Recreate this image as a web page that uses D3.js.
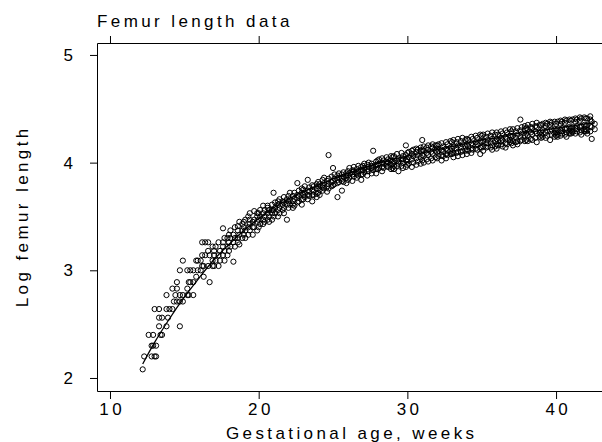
<!DOCTYPE html>
<html>
<head>
<meta charset="utf-8">
<script src="https://cdn.jsdelivr.net/npm/d3@7"></script>
<style>
body { margin: 0; background: #fff; }
text { font-family: "Liberation Sans", Arial, sans-serif; fill: #000; }
</style>
</head>
<body>
<script>
let ageWeeks = [
    12.2,12.3,12.6,12.8,12.9,13.0,13.1,13.3,13.4,13.5,13.8,13.9,
    14.0,14.2,14.3,14.4,14.5,14.7,14.9,15.2,15.3,15.4,15.6,15.8,15.9,
    16.1,16.2,16.3,16.4,16.6,16.7,16.9,
    17.0,17.1,17.3,17.4,17.6,17.7,17.9,
    18.0,18.1,18.3,18.4,18.6,18.7,18.9,
    19.0,19.1,19.3,19.4,19.6,19.7,19.9,
    20.0,20.1,20.3,20.4,20.6,20.7,20.9,
    21.0,21.1,21.3,21.4,21.6,21.7,21.9,
    22.0,22.1,22.3,22.4,22.6,22.7,22.9,
    23.0,23.1,23.3,23.4,23.6,23.7,23.9,
    24.0,24.1,24.3,24.4,24.6,24.7,24.9,
    25.0,25.1,25.3,25.4,25.6,25.7,25.9,
    26.0,26.1,26.3,26.4,26.6,26.7,26.9,
    27.0,27.1,27.3,27.4,27.6,27.7,27.9,
    28.0,28.1,28.3,28.4,28.6,28.7,28.9,
    29.0,29.1,29.3,29.4,29.6,29.7,29.9,
    30.0,30.1,30.3,30.4,30.6,30.7,30.9,
    31.0,31.1,31.3,31.4,31.6,31.7,31.9,
    32.0,32.1,32.3,32.4,32.6,32.7,32.9,
    33.0,33.1,33.3,33.4,33.6,33.7,33.9,
    34.0,34.1,34.3,34.4,34.6,34.7,34.9,
    35.0,35.1,35.3,35.4,35.6,35.7,35.9,
    36.0,36.1,36.3,36.4,36.6,36.7,36.9,
    37.0,37.1,37.3,37.4,37.6,37.7,37.9,
    38.0,38.1,38.3,38.4,38.6,38.7,38.9,
    39.0,39.1,39.3,39.4,39.6,39.7,39.9,
    40.0,40.1,40.3,40.4,40.6,40.7,40.9,
    41.0,41.1,41.3,41.4,41.6,41.7,41.9,
    42.0,42.1,42.3,42.4,42.6
];

// log femur length values observed at each age above
let logFemur = [
    [2.08],[2.20],[2.40],[2.20,2.30],[2.30,2.40],[2.20,2.64],[2.20,2.30],[2.48,2.56,2.64],[2.40],[2.40,2.56],[2.48,2.64,2.77],[2.56],
    [2.64],[2.64,2.83],[2.71],[2.77],[2.71,2.83,2.89],[2.48,2.71,2.77,3.00],[2.71,2.77,3.09],[2.77,2.83,3.00],[2.77,2.89],[2.89,3.00],[2.77,2.89,3.00],[2.94,3.09],[3.00,3.09],
    [3.00,3.09],[3.04,3.14,3.26],[2.94,3.04],[3.14,3.26],[3.04,3.18,3.26],[2.89,3.14],[3.04,3.09,3.22],
    [3.04,3.14,3.18],[3.09,3.22],[3.14,3.04,3.26],[3.18,3.09],[3.14,3.22,3.39,3.26],[3.18,3.09,3.30],[3.22,3.14,3.30],
    [3.26,3.18,3.33],[3.22,3.30,3.37],[3.08,3.26,3.33],[3.30,3.22,3.40],[3.41,3.30,3.26,3.37],[3.33,3.24,3.45],[3.37,3.30,3.43],
    [3.33,3.40,3.45],[3.37,3.47,3.30],[3.40,3.33,3.50],[3.43,3.47,3.37,3.53],[3.33,3.45,3.40],[3.47,3.40,3.55],[3.45,3.50,3.37,3.53],
    [3.47,3.40,3.53],[3.50,3.43,3.56],[3.60,3.47,3.53,3.43],[3.50,3.56,3.45],[3.53,3.47,3.58,3.60],[3.50,3.56,3.45],[3.56,3.53,3.61,3.47],
    [3.72,3.56,3.50],[3.58,3.53,3.63],[3.56,3.61,3.50,3.64],[3.58,3.53,3.66],[3.61,3.56,3.64],[3.58,3.63,3.53,3.68],[3.47,3.61,3.66],
    [3.64,3.58,3.69],[3.61,3.66,3.72],[3.64,3.58,3.69,3.61],[3.66,3.72,3.60],[3.81,3.67,3.63,3.70],[3.69,3.64,3.74],[3.66,3.72,3.61,3.76],
    [3.70,3.66,3.75],[3.72,3.78,3.68],[3.84,3.70,3.74,3.66],[3.73,3.77,3.69],[3.75,3.70,3.79,3.64],[3.73,3.78,3.70],[3.76,3.71,3.80,3.68],
    [3.78,3.72,3.82],[3.75,3.80,3.70],[3.79,3.84,3.74,3.77],[3.81,3.76,3.86],[3.78,3.83,3.73],[4.07,3.80,3.85,3.76],[3.82,3.78,3.87],
    [3.95,3.83,3.79],[3.85,3.80,3.89],[3.68,3.84,3.88,3.81],[3.86,3.82,3.90],[3.74,3.85,3.89,3.83],[3.87,3.82,3.91],[3.86,3.90,3.81,3.88],
    [3.88,3.84,3.92],[3.90,3.86,3.95],[3.89,3.93,3.83,3.91],[3.87,3.92,3.96],[3.91,3.86,3.94,3.89],[3.92,3.88,3.97],[3.93,3.89,3.84,3.96],
    [3.93,3.89,3.97],[3.95,3.91,3.99],[3.94,3.88,3.98,3.92],[3.96,3.92,4.00],[3.95,3.99,3.90,3.97],[4.11,3.96,3.93],[3.98,3.94,4.01,3.90],
    [3.98,3.94,4.02],[3.99,3.95,4.03],[4.00,3.96,4.04,3.92],[3.99,4.02,3.95],[4.01,3.97,4.05,3.99],[4.00,4.03,3.96],[4.02,3.98,4.06,3.94],
    [3.99,3.95,4.05],[4.00,3.94,4.06,3.97],[4.02,3.97,4.08],[3.99,4.04,3.92,4.01],[4.03,3.97,4.09],[4.00,4.06,3.95,4.03],[4.16,4.02,4.07,3.96],
    [4.03,3.98,4.09,4.01],[4.05,3.99,4.10],[4.03,4.08,3.96,4.11],[4.06,4.00,4.12],[4.04,4.10,3.98,4.13],[4.07,4.01,4.12],[4.05,4.11,3.99,4.14],
    [4.21,4.07,4.02,4.12],[4.06,4.11,4.00,4.15],[4.09,4.03,4.14],[4.07,4.12,4.01,4.16],[4.10,4.04,4.15],[4.08,4.14,4.02,4.17],[4.11,4.05,4.16],
    [4.10,4.16,4.04,4.13],[4.11,4.06,4.17],[4.12,4.07,4.18,4.02],[4.10,4.15,4.06],[4.13,4.08,4.19,4.04],[4.11,4.17,4.07],[4.14,4.08,4.20,4.11],
    [4.13,4.08,4.19],[4.15,4.09,4.21,4.05],[4.13,4.19,4.09],[4.16,4.10,4.22,4.06],[4.14,4.20,4.10],[4.17,4.11,4.23,4.07],[4.15,4.21,4.11],
    [4.17,4.12,4.22,4.08],[4.15,4.21,4.11],[4.18,4.13,4.24,4.09],[4.16,4.22,4.12],[4.19,4.13,4.25,4.16],[4.17,4.23,4.12],[4.20,4.14,4.26,4.08],
    [4.19,4.14,4.25],[4.20,4.15,4.26,4.11],[4.18,4.24,4.14],[4.21,4.15,4.27,4.18],[4.19,4.25,4.14],[4.22,4.16,4.28,4.12],[4.20,4.26,4.15],
    [4.22,4.17,4.28,4.13],[4.20,4.26,4.16],[4.23,4.17,4.29,4.20],[4.21,4.27,4.15],[4.24,4.18,4.30,4.14],[4.22,4.28,4.17],[4.25,4.19,4.31,4.21],
    [4.24,4.18,4.29],[4.25,4.20,4.31,4.16],[4.23,4.29,4.19],[4.26,4.20,4.32,4.17],[4.40,4.24,4.30,4.20],[4.27,4.21,4.33],[4.25,4.31,4.20,4.34],
    [4.27,4.21,4.32],[4.25,4.31,4.20,4.35],[4.28,4.22,4.33],[4.26,4.32,4.21,4.36],[4.29,4.23,4.34],[4.27,4.33,4.19,4.37],[4.28,4.24,4.35],
    [4.29,4.23,4.35,4.26],[4.30,4.24,4.36],[4.37,4.28,4.34,4.23],[4.30,4.25,4.36],[4.29,4.35,4.21,4.38],[4.31,4.26,4.37],[4.31,4.27,4.38,4.24],
    [4.30,4.25,4.36,4.28],[4.24,4.31,4.26,4.38],[4.30,4.36,4.25,4.39],[4.32,4.27,4.38,4.29],[4.31,4.37,4.26,4.40],[4.32,4.28,4.39,4.24],[4.33,4.29,4.40,4.27],
    [4.32,4.27,4.39,4.30],[4.40,4.33,4.28,4.29],[4.32,4.38,4.27,4.41],[4.34,4.29,4.40,4.31],[4.33,4.39,4.28,4.42],[4.34,4.30,4.41,4.26],[4.35,4.31,4.42,4.29],
    [4.34,4.29,4.41,4.31],[4.35,4.30,4.41,4.27],[4.34,4.40,4.29,4.43],[4.33,4.22,4.38],[4.36,4.31]
];

// fitted curve
let fitAge = [12.2,13,14,15,16,17,18,19,20,21,22,23,24,25,26,27,28,29,30,31,32,33,34,35,36,37,38,39,40,41,42,42.6];
let fitLog = [2.13,2.33,2.55,2.75,2.93,3.10,3.24,3.37,3.48,3.58,3.66,3.73,3.79,3.85,3.90,3.95,3.99,4.03,4.06,4.09,4.12,4.15,4.18,4.21,4.23,4.26,4.28,4.30,4.32,4.34,4.36,4.37];

let xTicks = [10,20,30,40];
let yTicks = [2,3,4,5];

let chartTitle = "Femur length data";
let xTitle = "Gestational age, weeks";
let yTitle = "Log femur length";

let width = 602,
    height = 442;

let margin = {
    left:97,
    right:0,
    top:43,
    bottom:51
}

let fontSize = 17,
    spacing = 3.4;

let x = d3.scaleLinear()
    .domain([9.126, 43.09])
    .range([margin.left, width - margin.right]);

let y = d3.scaleLinear()
    .domain([1.879, 5.111])
    .range([height - margin.bottom, margin.top]);

let points = ageWeeks.flatMap((a,i) => logFemur[i].map((v) => ({age:a, val:v})));

let svg = d3.select("body")
    .append("svg")
    .attr("width", width)
    .attr("height", height);

let lineGenerator = d3.line()
    .x((d) => x(d[0]))
    .y((d) => y(d[1]))
    .curve(d3.curveMonotoneX);

svg.append("g")
    .selectAll("circle")
    .data(points)
    .join("circle")
    .attr("cx", (d) => x(d.age))
    .attr("cy", (d) => y(d.val))
    .attr("r", 2.6)
    .attr("fill", "none")
    .attr("stroke", "#000")
    .attr("stroke-width", 1);

svg.append("path")
    .attr("d", lineGenerator(fitAge.map((a,i) => [a, fitLog[i]])))
    .attr("fill", "none")
    .attr("stroke", "#000")
    .attr("stroke-width", 1.3);

let xAxisBottom = d3.axisBottom(x).tickValues(xTicks).tickSize(8).tickSizeOuter(0).tickPadding(4).tickFormat(d3.format("d"));
let xAxisTop = d3.axisTop(x).tickValues(xTicks).tickSize(7).tickSizeOuter(0).tickFormat("");
let yAxis = d3.axisLeft(y).tickValues(yTicks).tickSize(7).tickSizeOuter(0).tickPadding(17).tickFormat(d3.format("d"));

svg.append("g")
    .attr("class", "axis x")
    .attr("transform", `translate(0,${height - margin.bottom})`)
    .call(xAxisBottom);

svg.append("g")
    .attr("class", "axis top")
    .attr("transform", `translate(0,${margin.top})`)
    .call(xAxisTop);

svg.append("g")
    .attr("class", "axis y")
    .attr("transform", `translate(${margin.left},0)`)
    .call(yAxis);

svg.selectAll(".axis path, .axis line")
    .attr("stroke", "#000")
    .attr("stroke-width", 1);

svg.selectAll(".axis text")
    .attr("font-family", "Liberation Sans, Arial, sans-serif")
    .attr("font-size", fontSize)
    .attr("letter-spacing", spacing);

svg.selectAll(".axis.x text")
    .attr("dx", spacing / 2);

svg.selectAll(".axis.y text")
    .attr("dx", spacing);

svg.append("text")
    .attr("x", margin.left)
    .attr("y", 27)
    .attr("font-size", fontSize)
    .attr("letter-spacing", spacing)
    .text(chartTitle);

svg.append("text")
    .attr("x", 350 + spacing / 2)
    .attr("y", 439)
    .attr("text-anchor", "middle")
    .attr("font-size", fontSize)
    .attr("letter-spacing", spacing)
    .text(xTitle);

svg.append("text")
    .attr("transform", `translate(28,${218 - spacing / 2}) rotate(-90)`)
    .attr("text-anchor", "middle")
    .attr("font-size", fontSize)
    .attr("letter-spacing", spacing)
    .text(yTitle);
</script>
</body>
</html>
